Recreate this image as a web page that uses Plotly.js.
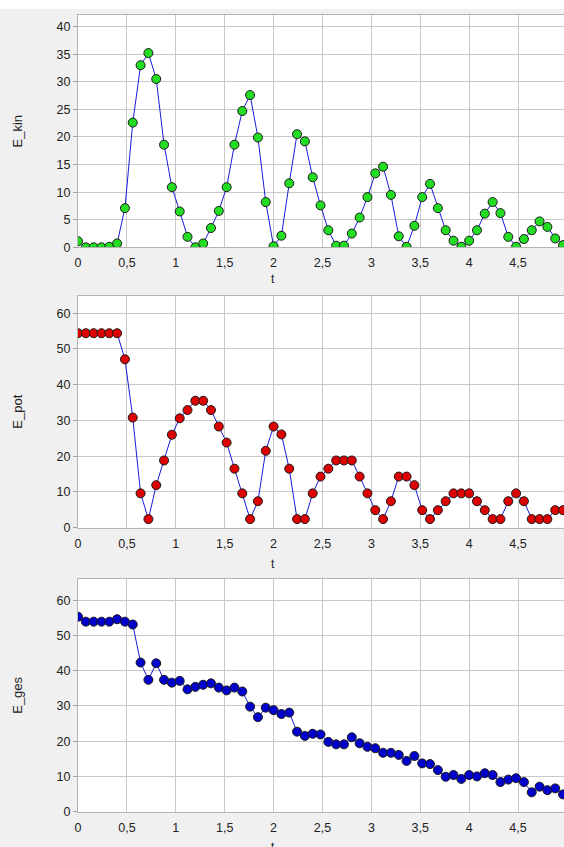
<!DOCTYPE html>
<html>
<head>
<meta charset="utf-8">
<script src="https://cdn.plot.ly/plotly-3.0.1.min.js"></script>
<style>
html,body{margin:0;padding:0;background:#f0f0f0;}
#chart{width:564px;height:847px;}
</style>
</head>
<body>
<div id="chart"></div>
<script>
const t = [0,0.08,0.16,0.24,0.32,0.40,0.48,0.56,0.64,0.72,0.80,0.88,0.96,1.04,1.12,1.20,1.28,1.36,1.44,1.52,1.60,1.68,1.76,1.84,1.92,2.00,2.08,2.16,2.24,2.32,2.40,2.48,2.56,2.64,2.72,2.80,2.88,2.96,3.04,3.12,3.20,3.28,3.36,3.44,3.52,3.60,3.68,3.76,3.84,3.92,4.00,4.08,4.16,4.24,4.32,4.40,4.48,4.56,4.64,4.72,4.80,4.88,4.96];

const E_kin = [1.1,0,0,0,0.1,0.7,7.1,22.6,33.0,35.2,30.5,18.6,10.9,6.5,1.9,0,0.7,3.5,6.6,10.9,18.6,24.7,27.6,19.9,8.2,0.2,2.1,11.6,20.5,19.2,12.7,7.6,3.1,0.3,0.3,2.5,5.4,9.1,13.4,14.6,9.5,2.0,0.1,3.9,9.1,11.5,7.1,3.1,1.2,0.1,1.2,3.1,6.1,8.2,6.2,1.9,0.1,1.5,3.1,4.7,3.7,1.6,0.4];

const E_pot = [54.4,54.4,54.4,54.4,54.4,54.4,47.1,30.8,9.6,2.4,11.9,18.8,26.0,30.6,32.9,35.5,35.5,32.9,28.3,23.8,16.5,9.6,2.4,7.4,21.5,28.3,26.1,16.5,2.4,2.4,9.6,14.3,16.5,18.8,18.8,18.8,14.3,9.6,4.9,2.4,7.4,14.3,14.3,11.9,4.9,2.4,4.9,7.4,9.6,9.6,9.6,7.4,4.9,2.4,2.4,7.4,9.6,7.4,2.4,2.4,2.4,4.9,4.9];

const E_ges = [55.3,53.9,53.9,53.9,53.9,54.6,53.9,53.1,42.3,37.4,42.1,37.4,36.6,37.1,34.7,35.4,36.0,36.4,35.2,34.4,35.2,34.1,29.8,26.8,29.5,28.8,27.7,28.1,22.7,21.5,22.1,21.9,19.8,19.1,19.1,21.1,19.4,18.4,18.0,16.7,16.7,16.1,14.4,15.8,13.7,13.5,11.8,9.9,10.4,9.3,10.4,10.0,10.9,10.4,8.4,9.1,9.5,8.4,5.5,7.1,6.1,6.6,4.9];

const yTitles = ['E_kin','E_pot','E_ges'];
const xTitle = 't';

const lineColor = '#1a1ad8';
const fills = ['#22dd22','#dd0000','#0000cc'];
const series = [E_kin, E_pot, E_ges];

const traces = series.map((ys, i) => ({
  x: t, y: ys, type: 'scatter', mode: 'lines+markers',
  xaxis: i === 0 ? 'x' : 'x' + (i + 1),
  yaxis: i === 0 ? 'y' : 'y' + (i + 1),
  line: {color: lineColor, width: 1},
  marker: {color: fills[i], size: 9, symbol: 'circle', line: {color: '#1a1a1a', width: 1}},
  hoverinfo: 'x+y'
}));

const font = {family: 'Liberation Sans, Arial, sans-serif', size: 12.5, color: '#222'};

function xax(anchor) {
  return {
    anchor: anchor, domain: [0, 1], range: [0, 4.97], dtick: 0.5, tick0: 0,
    showgrid: true, gridcolor: '#c8c8c8', gridwidth: 1, zeroline: false,
    showline: true, linecolor: '#b4b4b4', mirror: true, ticks: '',
    tickfont: font, ticklabelstandoff: 4
  };
}
function yax(anchor, domain, range, dtick, title) {
  return {
    anchor: anchor, domain: domain, range: range, dtick: dtick, tick0: 0,
    showgrid: true, gridcolor: '#c8c8c8', gridwidth: 1, zeroline: false,
    showline: true, linecolor: '#b4b4b4', mirror: true,
    ticks: 'outside', ticklen: 4, tickcolor: '#a0a0a0',
    tickfont: font,
    title: {text: title, font: {family: font.family, size: 13, color: '#222'}, standoff: 31}
  };
}

// x-axis title positions (paper fractions) below each panel
const xTitleY = [1 - 279/847, 1 - 564/847, 1 - 838/847];
const annotations = xTitleY.map((yy, i) => ({
  text: xTitle, xref: 'paper', yref: 'paper', x: 0.401, y: yy,
  xanchor: 'center', yanchor: i === 2 ? 'top' : 'middle', showarrow: false,
  font: {family: font.family, size: 12, color: '#222'}
}));

const layout = {
  width: 564, height: 847, autosize: false,
  margin: {l: 78, r: 0, t: 0, b: 0},
  paper_bgcolor: '#f0f0f0', plot_bgcolor: '#ffffff',
  separators: ', ',
  showlegend: false,
  font: font,
  xaxis: xax('y'),
  yaxis: yax('x', [0.708, 0.9823], [0, 42.1], 5, yTitles[0]),
  xaxis2: xax('y2'),
  yaxis2: yax('x2', [0.377, 0.6509], [0, 64.9], 10, yTitles[1]),
  xaxis3: xax('y3'),
  yaxis3: yax('x3', [0.0417, 0.3164], [0, 66.0], 10, yTitles[2]),
  annotations: annotations,
  shapes: [{type: 'rect', xref: 'paper', yref: 'paper', x0: -0.2, x1: 1.1, y0: 1 - 9/847, y1: 1.01,
            fillcolor: '#ffffff', line: {width: 0}, layer: 'below'}]
};

Plotly.newPlot('chart', traces, layout, {staticPlot: true, displayModeBar: false});
</script>
</body>
</html>
